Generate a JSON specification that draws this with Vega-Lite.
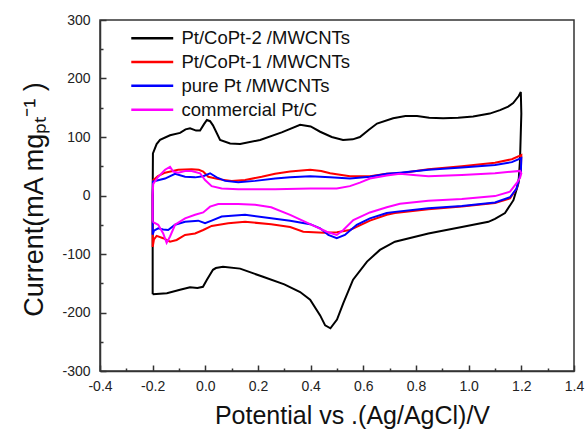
{
  "$schema": "https://vega.github.io/schema/vega-lite/v6.json",
  "width": 474,
  "height": 351,
  "autosize": {"type": "none"},
  "padding": {"left": 100, "top": 20, "right": 11, "bottom": 60},
  "background": "white",
  "config": {
    "view": {"stroke": "#333", "strokeWidth": 1.5},
    "font": "Liberation Sans"
  },
  "datasets": {
    "cv": [
      {"s":"Pt/CoPt-2 /MWCNTs","i":1,"x":-0.2,"y":-169},{"s":"Pt/CoPt-2 /MWCNTs","i":2,"x":-0.2,"y":0},{"s":"Pt/CoPt-2 /MWCNTs","i":3,"x":-0.199,"y":72},{"s":"Pt/CoPt-2 /MWCNTs","i":4,"x":-0.185,"y":88},{"s":"Pt/CoPt-2 /MWCNTs","i":5,"x":-0.172,"y":95},{"s":"Pt/CoPt-2 /MWCNTs","i":6,"x":-0.134,"y":103},{"s":"Pt/CoPt-2 /MWCNTs","i":7,"x":-0.096,"y":107},{"s":"Pt/CoPt-2 /MWCNTs","i":8,"x":-0.075,"y":113},{"s":"Pt/CoPt-2 /MWCNTs","i":9,"x":-0.058,"y":115},{"s":"Pt/CoPt-2 /MWCNTs","i":10,"x":-0.035,"y":111},{"s":"Pt/CoPt-2 /MWCNTs","i":11,"x":-0.02,"y":111},{"s":"Pt/CoPt-2 /MWCNTs","i":12,"x":-0.005,"y":122},{"s":"Pt/CoPt-2 /MWCNTs","i":13,"x":0.006,"y":129},{"s":"Pt/CoPt-2 /MWCNTs","i":14,"x":0.018,"y":127},{"s":"Pt/CoPt-2 /MWCNTs","i":15,"x":0.029,"y":120},{"s":"Pt/CoPt-2 /MWCNTs","i":16,"x":0.056,"y":95},{"s":"Pt/CoPt-2 /MWCNTs","i":17,"x":0.094,"y":89},{"s":"Pt/CoPt-2 /MWCNTs","i":18,"x":0.132,"y":88},{"s":"Pt/CoPt-2 /MWCNTs","i":19,"x":0.208,"y":95},{"s":"Pt/CoPt-2 /MWCNTs","i":20,"x":0.29,"y":108},{"s":"Pt/CoPt-2 /MWCNTs","i":21,"x":0.36,"y":121},{"s":"Pt/CoPt-2 /MWCNTs","i":22,"x":0.4,"y":118},{"s":"Pt/CoPt-2 /MWCNTs","i":23,"x":0.436,"y":109},{"s":"Pt/CoPt-2 /MWCNTs","i":24,"x":0.48,"y":100},{"s":"Pt/CoPt-2 /MWCNTs","i":25,"x":0.523,"y":95},{"s":"Pt/CoPt-2 /MWCNTs","i":26,"x":0.56,"y":96},{"s":"Pt/CoPt-2 /MWCNTs","i":27,"x":0.587,"y":100},{"s":"Pt/CoPt-2 /MWCNTs","i":28,"x":0.62,"y":112},{"s":"Pt/CoPt-2 /MWCNTs","i":29,"x":0.652,"y":123},{"s":"Pt/CoPt-2 /MWCNTs","i":30,"x":0.713,"y":132},{"s":"Pt/CoPt-2 /MWCNTs","i":31,"x":0.76,"y":136},{"s":"Pt/CoPt-2 /MWCNTs","i":32,"x":0.804,"y":136},{"s":"Pt/CoPt-2 /MWCNTs","i":33,"x":0.85,"y":133},{"s":"Pt/CoPt-2 /MWCNTs","i":34,"x":0.903,"y":132},{"s":"Pt/CoPt-2 /MWCNTs","i":35,"x":0.96,"y":133},{"s":"Pt/CoPt-2 /MWCNTs","i":36,"x":1.017,"y":135},{"s":"Pt/CoPt-2 /MWCNTs","i":37,"x":1.08,"y":140},{"s":"Pt/CoPt-2 /MWCNTs","i":38,"x":1.119,"y":146},{"s":"Pt/CoPt-2 /MWCNTs","i":39,"x":1.15,"y":152},{"s":"Pt/CoPt-2 /MWCNTs","i":40,"x":1.169,"y":158},{"s":"Pt/CoPt-2 /MWCNTs","i":41,"x":1.19,"y":170},{"s":"Pt/CoPt-2 /MWCNTs","i":42,"x":1.198,"y":177},{"s":"Pt/CoPt-2 /MWCNTs","i":43,"x":1.2,"y":140},{"s":"Pt/CoPt-2 /MWCNTs","i":44,"x":1.195,"y":60},{"s":"Pt/CoPt-2 /MWCNTs","i":45,"x":1.189,"y":21},{"s":"Pt/CoPt-2 /MWCNTs","i":46,"x":1.17,"y":-8},{"s":"Pt/CoPt-2 /MWCNTs","i":47,"x":1.138,"y":-30},{"s":"Pt/CoPt-2 /MWCNTs","i":48,"x":1.1,"y":-40},{"s":"Pt/CoPt-2 /MWCNTs","i":49,"x":1.075,"y":-45},{"s":"Pt/CoPt-2 /MWCNTs","i":50,"x":0.974,"y":-54},{"s":"Pt/CoPt-2 /MWCNTs","i":51,"x":0.847,"y":-65},{"s":"Pt/CoPt-2 /MWCNTs","i":52,"x":0.72,"y":-79},{"s":"Pt/CoPt-2 /MWCNTs","i":53,"x":0.663,"y":-93},{"s":"Pt/CoPt-2 /MWCNTs","i":54,"x":0.614,"y":-113},{"s":"Pt/CoPt-2 /MWCNTs","i":55,"x":0.561,"y":-144},{"s":"Pt/CoPt-2 /MWCNTs","i":56,"x":0.524,"y":-184},{"s":"Pt/CoPt-2 /MWCNTs","i":57,"x":0.5,"y":-212},{"s":"Pt/CoPt-2 /MWCNTs","i":58,"x":0.475,"y":-227},{"s":"Pt/CoPt-2 /MWCNTs","i":59,"x":0.455,"y":-222},{"s":"Pt/CoPt-2 /MWCNTs","i":60,"x":0.436,"y":-205},{"s":"Pt/CoPt-2 /MWCNTs","i":61,"x":0.398,"y":-178},{"s":"Pt/CoPt-2 /MWCNTs","i":62,"x":0.36,"y":-165},{"s":"Pt/CoPt-2 /MWCNTs","i":63,"x":0.3,"y":-152},{"s":"Pt/CoPt-2 /MWCNTs","i":64,"x":0.219,"y":-139},{"s":"Pt/CoPt-2 /MWCNTs","i":65,"x":0.132,"y":-125},{"s":"Pt/CoPt-2 /MWCNTs","i":66,"x":0.067,"y":-122},{"s":"Pt/CoPt-2 /MWCNTs","i":67,"x":0.04,"y":-124},{"s":"Pt/CoPt-2 /MWCNTs","i":68,"x":0.029,"y":-127},{"s":"Pt/CoPt-2 /MWCNTs","i":69,"x":0.006,"y":-144},{"s":"Pt/CoPt-2 /MWCNTs","i":70,"x":-0.009,"y":-156},{"s":"Pt/CoPt-2 /MWCNTs","i":71,"x":-0.03,"y":-158},{"s":"Pt/CoPt-2 /MWCNTs","i":72,"x":-0.058,"y":-157},{"s":"Pt/CoPt-2 /MWCNTs","i":73,"x":-0.096,"y":-161},{"s":"Pt/CoPt-2 /MWCNTs","i":74,"x":-0.146,"y":-167},{"s":"Pt/CoPt-2 /MWCNTs","i":75,"x":-0.2,"y":-169},

      {"s":"Pt/CoPt-1 /MWCNTs","i":1,"x":-0.2,"y":-88},{"s":"Pt/CoPt-1 /MWCNTs","i":2,"x":-0.2,"y":0},{"s":"Pt/CoPt-1 /MWCNTs","i":3,"x":-0.198,"y":26},{"s":"Pt/CoPt-1 /MWCNTs","i":4,"x":-0.18,"y":33},{"s":"Pt/CoPt-1 /MWCNTs","i":5,"x":-0.153,"y":39},{"s":"Pt/CoPt-1 /MWCNTs","i":6,"x":-0.103,"y":44},{"s":"Pt/CoPt-1 /MWCNTs","i":7,"x":-0.052,"y":45},{"s":"Pt/CoPt-1 /MWCNTs","i":8,"x":-0.025,"y":44},{"s":"Pt/CoPt-1 /MWCNTs","i":9,"x":-0.008,"y":41},{"s":"Pt/CoPt-1 /MWCNTs","i":10,"x":0.011,"y":32},{"s":"Pt/CoPt-1 /MWCNTs","i":11,"x":0.049,"y":28},{"s":"Pt/CoPt-1 /MWCNTs","i":12,"x":0.1,"y":25},{"s":"Pt/CoPt-1 /MWCNTs","i":13,"x":0.151,"y":26.5},{"s":"Pt/CoPt-1 /MWCNTs","i":14,"x":0.214,"y":32},{"s":"Pt/CoPt-1 /MWCNTs","i":15,"x":0.265,"y":37},{"s":"Pt/CoPt-1 /MWCNTs","i":16,"x":0.322,"y":41},{"s":"Pt/CoPt-1 /MWCNTs","i":17,"x":0.398,"y":44},{"s":"Pt/CoPt-1 /MWCNTs","i":18,"x":0.44,"y":42},{"s":"Pt/CoPt-1 /MWCNTs","i":19,"x":0.474,"y":38},{"s":"Pt/CoPt-1 /MWCNTs","i":20,"x":0.549,"y":33},{"s":"Pt/CoPt-1 /MWCNTs","i":21,"x":0.625,"y":33},{"s":"Pt/CoPt-1 /MWCNTs","i":22,"x":0.689,"y":37},{"s":"Pt/CoPt-1 /MWCNTs","i":23,"x":0.739,"y":38},{"s":"Pt/CoPt-1 /MWCNTs","i":24,"x":0.847,"y":45},{"s":"Pt/CoPt-1 /MWCNTs","i":25,"x":0.974,"y":50},{"s":"Pt/CoPt-1 /MWCNTs","i":26,"x":1.1,"y":56},{"s":"Pt/CoPt-1 /MWCNTs","i":27,"x":1.164,"y":62},{"s":"Pt/CoPt-1 /MWCNTs","i":28,"x":1.2,"y":69},{"s":"Pt/CoPt-1 /MWCNTs","i":29,"x":1.198,"y":40},{"s":"Pt/CoPt-1 /MWCNTs","i":30,"x":1.182,"y":12},{"s":"Pt/CoPt-1 /MWCNTs","i":31,"x":1.157,"y":-5},{"s":"Pt/CoPt-1 /MWCNTs","i":32,"x":1.1,"y":-13},{"s":"Pt/CoPt-1 /MWCNTs","i":33,"x":0.974,"y":-19},{"s":"Pt/CoPt-1 /MWCNTs","i":34,"x":0.847,"y":-23.5},{"s":"Pt/CoPt-1 /MWCNTs","i":35,"x":0.72,"y":-30},{"s":"Pt/CoPt-1 /MWCNTs","i":36,"x":0.689,"y":-33},{"s":"Pt/CoPt-1 /MWCNTs","i":37,"x":0.625,"y":-43},{"s":"Pt/CoPt-1 /MWCNTs","i":38,"x":0.549,"y":-59},{"s":"Pt/CoPt-1 /MWCNTs","i":39,"x":0.5,"y":-63},{"s":"Pt/CoPt-1 /MWCNTs","i":40,"x":0.45,"y":-63.5},{"s":"Pt/CoPt-1 /MWCNTs","i":41,"x":0.372,"y":-62},{"s":"Pt/CoPt-1 /MWCNTs","i":42,"x":0.322,"y":-54},{"s":"Pt/CoPt-1 /MWCNTs","i":43,"x":0.25,"y":-49},{"s":"Pt/CoPt-1 /MWCNTs","i":44,"x":0.151,"y":-45},{"s":"Pt/CoPt-1 /MWCNTs","i":45,"x":0.087,"y":-47.5},{"s":"Pt/CoPt-1 /MWCNTs","i":46,"x":0.024,"y":-52},{"s":"Pt/CoPt-1 /MWCNTs","i":47,"x":-0.008,"y":-59},{"s":"Pt/CoPt-1 /MWCNTs","i":48,"x":-0.039,"y":-65},{"s":"Pt/CoPt-1 /MWCNTs","i":49,"x":-0.077,"y":-67.5},{"s":"Pt/CoPt-1 /MWCNTs","i":50,"x":-0.109,"y":-76},{"s":"Pt/CoPt-1 /MWCNTs","i":51,"x":-0.134,"y":-79},{"s":"Pt/CoPt-1 /MWCNTs","i":52,"x":-0.16,"y":-73},{"s":"Pt/CoPt-1 /MWCNTs","i":53,"x":-0.185,"y":-69},{"s":"Pt/CoPt-1 /MWCNTs","i":54,"x":-0.195,"y":-75},{"s":"Pt/CoPt-1 /MWCNTs","i":55,"x":-0.2,"y":-88},

      {"s":"pure Pt /MWCNTs","i":1,"x":-0.2,"y":-67},{"s":"pure Pt /MWCNTs","i":2,"x":-0.2,"y":0},{"s":"pure Pt /MWCNTs","i":3,"x":-0.199,"y":24},{"s":"pure Pt /MWCNTs","i":4,"x":-0.153,"y":29},{"s":"pure Pt /MWCNTs","i":5,"x":-0.115,"y":37},{"s":"pure Pt /MWCNTs","i":6,"x":-0.077,"y":32},{"s":"pure Pt /MWCNTs","i":7,"x":-0.039,"y":31},{"s":"pure Pt /MWCNTs","i":8,"x":-0.008,"y":33},{"s":"pure Pt /MWCNTs","i":9,"x":0.018,"y":38},{"s":"pure Pt /MWCNTs","i":10,"x":0.043,"y":31},{"s":"pure Pt /MWCNTs","i":11,"x":0.075,"y":25},{"s":"pure Pt /MWCNTs","i":12,"x":0.125,"y":22.5},{"s":"pure Pt /MWCNTs","i":13,"x":0.189,"y":25},{"s":"pure Pt /MWCNTs","i":14,"x":0.265,"y":29},{"s":"pure Pt /MWCNTs","i":15,"x":0.322,"y":31},{"s":"pure Pt /MWCNTs","i":16,"x":0.398,"y":33},{"s":"pure Pt /MWCNTs","i":17,"x":0.474,"y":31},{"s":"pure Pt /MWCNTs","i":18,"x":0.549,"y":29},{"s":"pure Pt /MWCNTs","i":19,"x":0.625,"y":32},{"s":"pure Pt /MWCNTs","i":20,"x":0.689,"y":37},{"s":"pure Pt /MWCNTs","i":21,"x":0.739,"y":39},{"s":"pure Pt /MWCNTs","i":22,"x":0.847,"y":44},{"s":"pure Pt /MWCNTs","i":23,"x":0.974,"y":48},{"s":"pure Pt /MWCNTs","i":24,"x":1.1,"y":52},{"s":"pure Pt /MWCNTs","i":25,"x":1.164,"y":57},{"s":"pure Pt /MWCNTs","i":26,"x":1.2,"y":64},{"s":"pure Pt /MWCNTs","i":27,"x":1.198,"y":40},{"s":"pure Pt /MWCNTs","i":28,"x":1.182,"y":12},{"s":"pure Pt /MWCNTs","i":29,"x":1.157,"y":-3},{"s":"pure Pt /MWCNTs","i":30,"x":1.1,"y":-12},{"s":"pure Pt /MWCNTs","i":31,"x":0.974,"y":-18},{"s":"pure Pt /MWCNTs","i":32,"x":0.847,"y":-22},{"s":"pure Pt /MWCNTs","i":33,"x":0.72,"y":-28},{"s":"pure Pt /MWCNTs","i":34,"x":0.689,"y":-30},{"s":"pure Pt /MWCNTs","i":35,"x":0.625,"y":-39},{"s":"pure Pt /MWCNTs","i":36,"x":0.575,"y":-50},{"s":"pure Pt /MWCNTs","i":37,"x":0.53,"y":-67.5},{"s":"pure Pt /MWCNTs","i":38,"x":0.499,"y":-73},{"s":"pure Pt /MWCNTs","i":39,"x":0.467,"y":-67.5},{"s":"pure Pt /MWCNTs","i":40,"x":0.436,"y":-56},{"s":"pure Pt /MWCNTs","i":41,"x":0.398,"y":-49},{"s":"pure Pt /MWCNTs","i":42,"x":0.322,"y":-43},{"s":"pure Pt /MWCNTs","i":43,"x":0.25,"y":-39},{"s":"pure Pt /MWCNTs","i":44,"x":0.151,"y":-33},{"s":"pure Pt /MWCNTs","i":45,"x":0.062,"y":-36},{"s":"pure Pt /MWCNTs","i":46,"x":0.024,"y":-43},{"s":"pure Pt /MWCNTs","i":47,"x":-0.001,"y":-47.5},{"s":"pure Pt /MWCNTs","i":48,"x":-0.027,"y":-43},{"s":"pure Pt /MWCNTs","i":49,"x":-0.077,"y":-45},{"s":"pure Pt /MWCNTs","i":50,"x":-0.115,"y":-50},{"s":"pure Pt /MWCNTs","i":51,"x":-0.141,"y":-59},{"s":"pure Pt /MWCNTs","i":52,"x":-0.16,"y":-58},{"s":"pure Pt /MWCNTs","i":53,"x":-0.179,"y":-56},{"s":"pure Pt /MWCNTs","i":54,"x":-0.195,"y":-60},{"s":"pure Pt /MWCNTs","i":55,"x":-0.2,"y":-67},

      {"s":"commercial Pt/C","i":1,"x":-0.2,"y":-45},{"s":"commercial Pt/C","i":2,"x":-0.2,"y":0},{"s":"commercial Pt/C","i":3,"x":-0.198,"y":20},{"s":"commercial Pt/C","i":4,"x":-0.179,"y":32},{"s":"commercial Pt/C","i":5,"x":-0.153,"y":44},{"s":"commercial Pt/C","i":6,"x":-0.134,"y":49},{"s":"commercial Pt/C","i":7,"x":-0.122,"y":41},{"s":"commercial Pt/C","i":8,"x":-0.103,"y":39},{"s":"commercial Pt/C","i":9,"x":-0.077,"y":42},{"s":"commercial Pt/C","i":10,"x":-0.052,"y":42},{"s":"commercial Pt/C","i":11,"x":-0.02,"y":38},{"s":"commercial Pt/C","i":12,"x":-0.001,"y":26.5},{"s":"commercial Pt/C","i":13,"x":0.024,"y":16},{"s":"commercial Pt/C","i":14,"x":0.062,"y":12},{"s":"commercial Pt/C","i":15,"x":0.125,"y":10.6},{"s":"commercial Pt/C","i":16,"x":0.265,"y":10.6},{"s":"commercial Pt/C","i":17,"x":0.398,"y":12},{"s":"commercial Pt/C","i":18,"x":0.499,"y":12},{"s":"commercial Pt/C","i":19,"x":0.549,"y":16},{"s":"commercial Pt/C","i":20,"x":0.587,"y":22},{"s":"commercial Pt/C","i":21,"x":0.625,"y":29},{"s":"commercial Pt/C","i":22,"x":0.689,"y":34},{"s":"commercial Pt/C","i":23,"x":0.739,"y":37},{"s":"commercial Pt/C","i":24,"x":0.79,"y":35},{"s":"commercial Pt/C","i":25,"x":0.847,"y":33},{"s":"commercial Pt/C","i":26,"x":0.974,"y":35},{"s":"commercial Pt/C","i":27,"x":1.1,"y":38},{"s":"commercial Pt/C","i":28,"x":1.195,"y":42},{"s":"commercial Pt/C","i":29,"x":1.2,"y":38},{"s":"commercial Pt/C","i":30,"x":1.195,"y":30},{"s":"commercial Pt/C","i":31,"x":1.182,"y":21},{"s":"commercial Pt/C","i":32,"x":1.157,"y":6.5},{"s":"commercial Pt/C","i":33,"x":1.1,"y":-1},{"s":"commercial Pt/C","i":34,"x":0.974,"y":-6},{"s":"commercial Pt/C","i":35,"x":0.847,"y":-9},{"s":"commercial Pt/C","i":36,"x":0.739,"y":-14},{"s":"commercial Pt/C","i":37,"x":0.689,"y":-20},{"s":"commercial Pt/C","i":38,"x":0.625,"y":-29},{"s":"commercial Pt/C","i":39,"x":0.562,"y":-42},{"s":"commercial Pt/C","i":40,"x":0.524,"y":-59},{"s":"commercial Pt/C","i":41,"x":0.499,"y":-67.5},{"s":"commercial Pt/C","i":42,"x":0.461,"y":-62},{"s":"commercial Pt/C","i":43,"x":0.398,"y":-49},{"s":"commercial Pt/C","i":44,"x":0.322,"y":-33},{"s":"commercial Pt/C","i":45,"x":0.25,"y":-20},{"s":"commercial Pt/C","i":46,"x":0.189,"y":-16},{"s":"commercial Pt/C","i":47,"x":0.125,"y":-14.5},{"s":"commercial Pt/C","i":48,"x":0.049,"y":-14.5},{"s":"commercial Pt/C","i":49,"x":0.018,"y":-19},{"s":"commercial Pt/C","i":50,"x":-0.008,"y":-29},{"s":"commercial Pt/C","i":51,"x":-0.039,"y":-33},{"s":"commercial Pt/C","i":52,"x":-0.077,"y":-39},{"s":"commercial Pt/C","i":53,"x":-0.115,"y":-50},{"s":"commercial Pt/C","i":54,"x":-0.134,"y":-70},{"s":"commercial Pt/C","i":55,"x":-0.147,"y":-81},{"s":"commercial Pt/C","i":56,"x":-0.16,"y":-65},{"s":"commercial Pt/C","i":57,"x":-0.179,"y":-50},{"s":"commercial Pt/C","i":58,"x":-0.2,"y":-45}
    ]
  },
  "data": {"name": "cv"},
  "mark": {"type": "line", "strokeWidth": 2, "interpolate": "linear", "clip": true},
  "encoding": {
    "x": {
      "field": "x", "type": "quantitative",
      "scale": {"domain": [-0.4, 1.4], "nice": false, "zero": false},
      "axis": {
        "title": "Potential vs .(Ag/AgCl)/V",
        "titleFont": "Liberation Sans", "titleFontSize": 25, "titleFontWeight": "normal", "titleColor": "#111",
        "titleX": 252, "titleY": 52, "titleBaseline": "alphabetic", "titleAlign": "center",
        "values": [-0.4,-0.3,-0.2,-0.1,0,0.1,0.2,0.3,0.4,0.5,0.6,0.7,0.8,0.9,1.0,1.1,1.2,1.3,1.4],
        "labelExpr": "round(datum.value*10) % 2 == 0 ? replace(format(datum.value, '.1f'), '−', '-') : ''",
        "tickSize": {"condition": {"test": "round(datum.value*10) % 2 == 0", "value": -6}, "value": -3},
        "tickColor": "#333", "tickWidth": 1.5,
        "domainColor": "#333", "domainWidth": 1.5,
        "labelFont": "Liberation Sans", "labelFontSize": 14, "labelColor": "#222",
        "labelPadding": 14, "grid": false, "labelFlush": false, "labelOverlap": false
      }
    },
    "y": {
      "field": "y", "type": "quantitative",
      "scale": {"domain": [-300, 300], "nice": false, "zero": false},
      "axis": {
        "title": "Current(mA mgₚₜ⁻¹ )",
        "titleFont": "Liberation Sans", "titleFontSize": 27, "titleFontWeight": "normal", "titleColor": "#111",
        "titleX": -58, "titleY": 179, "titleAngle": -90, "titleBaseline": "alphabetic", "titleAlign": "center",
        "values": [-300,-250,-200,-150,-100,-50,0,50,100,150,200,250,300],
        "labelExpr": "datum.value % 100 == 0 ? replace(datum.label, '−', '-') : ''",
        "tickSize": {"condition": {"test": "datum.value % 100 == 0", "value": -6}, "value": -3},
        "tickColor": "#333", "tickWidth": 1.5,
        "domainColor": "#333", "domainWidth": 1.5,
        "labelFont": "Liberation Sans", "labelFontSize": 14, "labelColor": "#222",
        "labelPadding": 16, "grid": false, "labelFlush": false, "labelOverlap": false
      }
    },
    "color": {
      "field": "s", "type": "nominal",
      "scale": {
        "domain": ["Pt/CoPt-2 /MWCNTs", "Pt/CoPt-1 /MWCNTs", "pure Pt /MWCNTs", "commercial Pt/C"],
        "range": ["#000000", "#ff0000", "#0000ff", "#ff00ff"]
      },
      "legend": {
        "title": null, "orient": "none", "legendX": 43, "legendY": 9,
        "symbolType": "M-4,0L4,0", "symbolSize": 110, "symbolStrokeWidth": 2.5,
        "labelFont": "Liberation Sans", "labelFontSize": 18.5, "labelColor": "#111",
        "labelOffset": 20, "rowPadding": 4.8, "padding": 0, "labelLimit": 300
      }
    },
    "order": {"field": "i", "type": "quantitative"}
  }
}
